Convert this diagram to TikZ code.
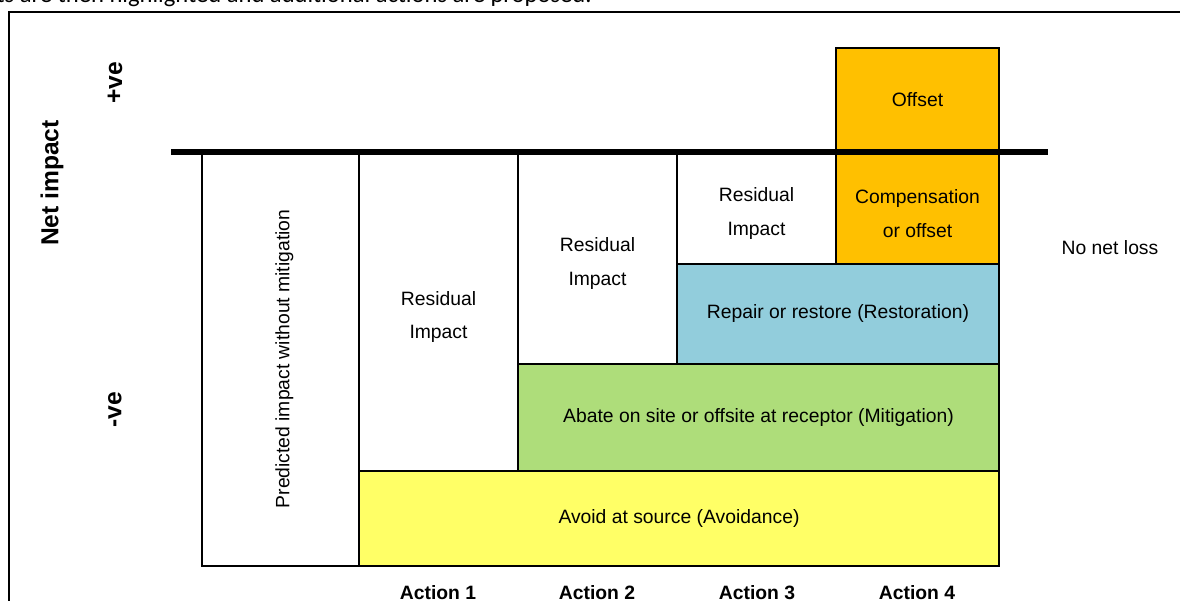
\documentclass[tikz,border=0pt]{standalone}
\usepackage{fontspec}
\setmainfont{Liberation Sans}
\newfontfamily\capfont{Carlito}
\usetikzlibrary{positioning}
\definecolor{offsetorange}{RGB}{255,192,0}
\definecolor{restoreblue}{RGB}{146,205,220}
\definecolor{abategreen}{RGB}{174,221,122}
\definecolor{avoidyellow}{RGB}{255,255,102}

\begin{document}
\begin{tikzpicture}[
    x=0.02cm, y=-0.02cm,
    band/.style={draw, line width=0.8pt},
    lbl/.style={font=\fontsize{11}{19}\selectfont, align=center, inner sep=0pt},
    twoline/.style={lbl, yshift=-0.11cm},
    axlbl/.style={font=\fontsize{14}{16}\selectfont\bfseries, rotate=90, inner sep=0pt},
    actlbl/.style={font=\fontsize{11}{13}\selectfont\bfseries, anchor=base, inner sep=0pt},
]
    \useasboundingbox (0,0) rectangle (1180,601);
    % caption line, cut off by the page
    \node[font=\capfont\fontsize{14}{16}\selectfont, anchor=base east, inner sep=0pt] (cap) at (592,3)
        {ts are then highlighted and additional actions are proposed.};
    % frame
    \draw[line width=1pt] (9,640) -- (9,12) -- (1200,12);
    % impact bands
    \draw[band] (202,152) rectangle (359,566)
        node[midway, lbl, xshift=0.08cm, rotate=90] (pred) {Predicted impact without mitigation};
    \draw[band] (359,152) rectangle (518,471)
        node[midway, twoline] (res1) {Residual\\Impact};
    \draw[band] (518,152) rectangle (677,364)
        node[midway, twoline] (res2) {Residual\\Impact};
    \draw[band] (677,152) rectangle (836,264)
        node[midway, twoline] (res3) {Residual\\Impact};
    \draw[band, fill=offsetorange] (836,152) rectangle (999,264)
        node[midway, twoline] (comp) {Compensation\\or offset};
    \draw[band, fill=offsetorange] (836,48) rectangle (999,152)
        node[midway, lbl] (offset) {Offset};
    \draw[band, fill=restoreblue] (677,264) rectangle (999,364)
        node[midway, lbl] (restore) {Repair or restore (Restoration)};
    \draw[band, fill=abategreen] (518,364) rectangle (999,471)
        node[midway, lbl] (abate) {Abate on site or offsite at receptor (Mitigation)};
    \draw[band, fill=avoidyellow] (359,471) rectangle (999,566)
        node[midway, lbl] (avoid) {Avoid at source (Avoidance)};
    % zero line
    \draw[line width=3.4pt] (171,152) -- (1048,152);
    % axis
    \node[axlbl] (net) at (52,183) {Net impact};
    \node[axlbl] (pos) at (115,83) {+ve};
    \node[axlbl] (neg) at (115,410) {-ve};
    \node[lbl] (nnl) at (1110,248) {No net loss};
    % actions
    \foreach \i/\x in {1/438,2/597,3/757,4/917}
        \node[actlbl] (act\i) at (\x,599) {Action \i};
\end{tikzpicture}
\end{document}
